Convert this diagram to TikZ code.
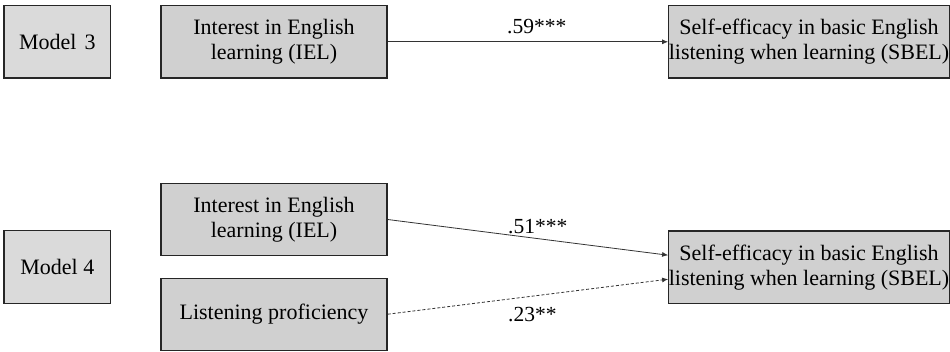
\documentclass[tikz,border=0pt]{standalone}
\usepackage{fontspec}
\setmainfont{Liberation Serif}
\usetikzlibrary{arrows.meta}
\definecolor{boxgray}{HTML}{D0D0D0}
\definecolor{modgray}{HTML}{DADADA}
\tikzset{
  var/.style={draw=black!85, line width=1.3pt, fill=boxgray, align=center, inner sep=0pt,
    font=\fontsize{22}{25}\selectfont},
  modbox/.style={var, fill=modgray},
  conn/.style={draw=black!80, line width=0.8pt, -{Latex[length=6pt,width=5pt]}},
  lbl/.style={font=\fontsize{21.5}{24}\selectfont, inner sep=0pt, anchor=base west}
}
\begin{document}
\begin{tikzpicture}[x=1pt,y=-1pt]
\useasboundingbox (0,0) rectangle (950,351);
% Model 3
\node[modbox, minimum width=106.5pt, minimum height=72.5pt] (m3) at (57.3,41.8) {Model\hspace{8pt}3};
\node[var, minimum width=226pt, minimum height=72.5pt] (iel1) at (274,41.8) {Interest in English\\learning (IEL)};
\node[var, minimum width=279.5pt, minimum height=72.5pt] (sb1) at (809,41.8) {Self-efficacy in basic English\\listening when learning (SBEL)};
\draw[conn] (iel1.east) -- (sb1.west);
\node[lbl] (l1) at (507,33) {.59***};
% Model 4
\node[modbox, minimum width=106.5pt, minimum height=72.5pt] (m4) at (57.3,267) {Model 4};
\node[var, minimum width=226pt, minimum height=72.5pt] (iel2) at (274,219.5) {Interest in English\\learning (IEL)};
\node[var, minimum width=226pt, minimum height=72pt] (lp) at (274,314.2) {Listening proficiency};
\node[var, minimum width=279.5pt, minimum height=72.5pt] (sb2) at (809,267.2) {Self-efficacy in basic English\\listening when learning (SBEL)};
\coordinate (t1) at ([yshift=12pt]sb2.west);
\coordinate (t2) at ([yshift=-12pt]sb2.west);
\draw[conn] (iel2.east) -- (t1);
\draw[conn, dash pattern=on 3pt off 2pt] (lp.east) -- (t2);
\node[lbl] (l2) at (508,233) {.51***};
\node[lbl] (l3) at (508,321) {.23**};
\end{tikzpicture}
\end{document}
